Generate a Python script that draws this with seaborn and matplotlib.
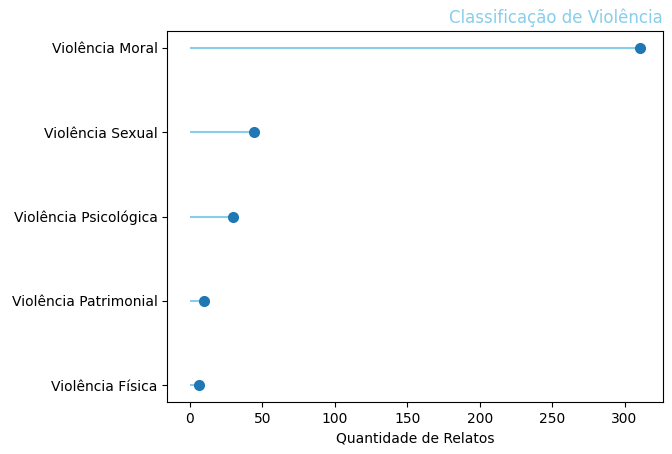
import matplotlib
matplotlib.use("Agg")
import matplotlib.pyplot as plt
import seaborn as sns
import pandas as pd

# Lollipop chart: number of reports per violence type.
categories = [
    "Violência Moral",
    "Violência Sexual",
    "Violência Psicológica",
    "Violência Patrimonial",
    "Violência Física",
]
relatos = [311, 44, 30, 10, 6]

df = pd.DataFrame({"tipo": categories, "relatos": relatos})

fig, ax = plt.subplots(figsize=(6.72, 4.54), dpi=100)
fig.subplots_adjust(left=0.249, right=0.9866, top=0.9317, bottom=0.1145)

# seaborn puts the first category at the top of the (inverted) y axis
sns.scatterplot(data=df, x="relatos", y="tipo", ax=ax,
                color="#1f77b4", s=64, linewidth=0, zorder=3)
ax.hlines(y=df["tipo"], xmin=0, xmax=df["relatos"],
          color="skyblue", linewidth=1.5, zorder=2)

ax.set_title("Classificação de Violência", loc="right", color="skyblue")
ax.set_xlabel("Quantidade de Relatos")
ax.set_ylabel("")

fig.savefig("out.png", dpi=100)
